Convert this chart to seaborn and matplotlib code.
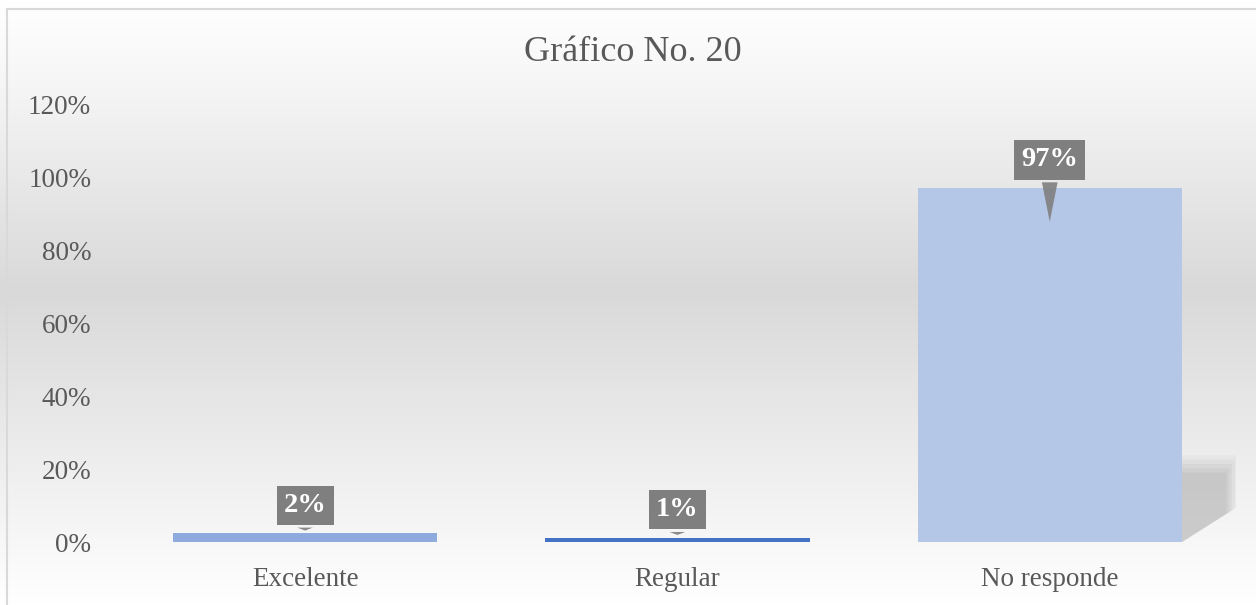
import numpy as np
import matplotlib
matplotlib.use("Agg")
import matplotlib.pyplot as plt
import seaborn as sns
from matplotlib.patches import Rectangle, Polygon
from matplotlib.colors import LinearSegmentedColormap

categories = ["Excelente", "Regular", "No responde"]
values = [0.024, 0.012, 0.970]
bar_colors = ["#8FAADC", "#4472C4", "#B4C7E7"]
yticks = [0.0, 0.2, 0.4, 0.6, 0.8, 1.0, 1.2]
title = "Gráfico No. 20"

sns.set_theme(style="white")
plt.rcParams["font.family"] = ["Liberation Serif", "DejaVu Serif"]

fig = plt.figure(figsize=(12.56, 6.05), dpi=100)

# background gradient
bg = fig.add_axes([0, 0, 1, 1], zorder=-10)
bg.set_axis_off()
cmap = LinearSegmentedColormap.from_list(
    "bg", [(0.0, "#FFFFFF"), (0.12, "#F7F7F7"), (0.48, "#D9D9D9"), (0.88, "#F6F6F6"), (1.0, "#FFFFFF")])
grad = np.linspace(0, 1, 256).reshape(-1, 1)
bg.imshow(grad, aspect="auto", cmap=cmap, extent=[0, 1, 0, 1], origin="upper")
bg.set_xlim(0, 1); bg.set_ylim(0, 1)
bg.add_patch(Rectangle((7 / 1256, -0.01), 1.0, 1 - 9 / 605 + 0.01, fill=False,
                       ec="#D9D9D9", lw=1.5, transform=bg.transAxes))

ax = fig.add_axes([0.0947, 0.104, 0.8893, 0.724])
ax.patch.set_alpha(0)
sns.barplot(x=categories, y=values, hue=categories, palette=bar_colors,
            width=0.71, legend=False, saturation=1, ax=ax, zorder=3,
            linewidth=0, edgecolor="none")

ax.set_ylim(0, 1.2)
ax.set_xlim(-0.5, 2.5)
ax.set_yticks(yticks)
ax.set_yticklabels([f"{t:.0%}" for t in yticks])
ax.tick_params(axis="y", labelsize=19.5, colors="#595959", length=0, pad=20)
ax.tick_params(axis="x", labelsize=19.5, colors="#595959", length=0, pad=18)
for lab in ax.get_xticklabels() + ax.get_yticklabels():
    lab.set_color("#595959")
for s in ax.spines.values():
    s.set_visible(False)
ax.grid(False)
ax.set_xlabel("")
ax.set_ylabel("")

# soft perspective shadow for the tallest bar
big = ax.patches[int(np.argmax(values))]
xr = big.get_x() + big.get_width()
h = big.get_height()
for k, a in enumerate([0.07, 0.08, 0.09, 0.10, 0.12]):
    s = 1 - k * 0.05
    poly = Polygon([(xr, 0.245 * h * s), (xr + 0.15 * s, 0.245 * h * s),
                    (xr + 0.15 * s, 0.10 * h * s), (xr, 0.0)],
                   closed=True, fc="#8C8C8C", ec="none", alpha=a, zorder=2)
    ax.add_patch(poly)

# callout labels
for i, v in enumerate(values):
    tip = v - 0.10 if v > 0.5 else v
    ax.annotate(f"{v:.0%}", xy=(i, tip), xytext=(i, v + 0.077),
                ha="center", va="center", fontsize=20.5, fontweight="bold", color="white",
                bbox=dict(boxstyle="square,pad=0.25", fc="#7F7F7F", ec="none"),
                arrowprops=dict(arrowstyle="wedge,tail_width=0.55,shrink_factor=0.5",
                                fc="#7F7F7F", ec="none", alpha=0.9),
                zorder=5)

fig.text(0.504, 0.914, title, ha="center", va="center", fontsize=26, color="#595959")

fig.savefig("out.png", dpi=100)
